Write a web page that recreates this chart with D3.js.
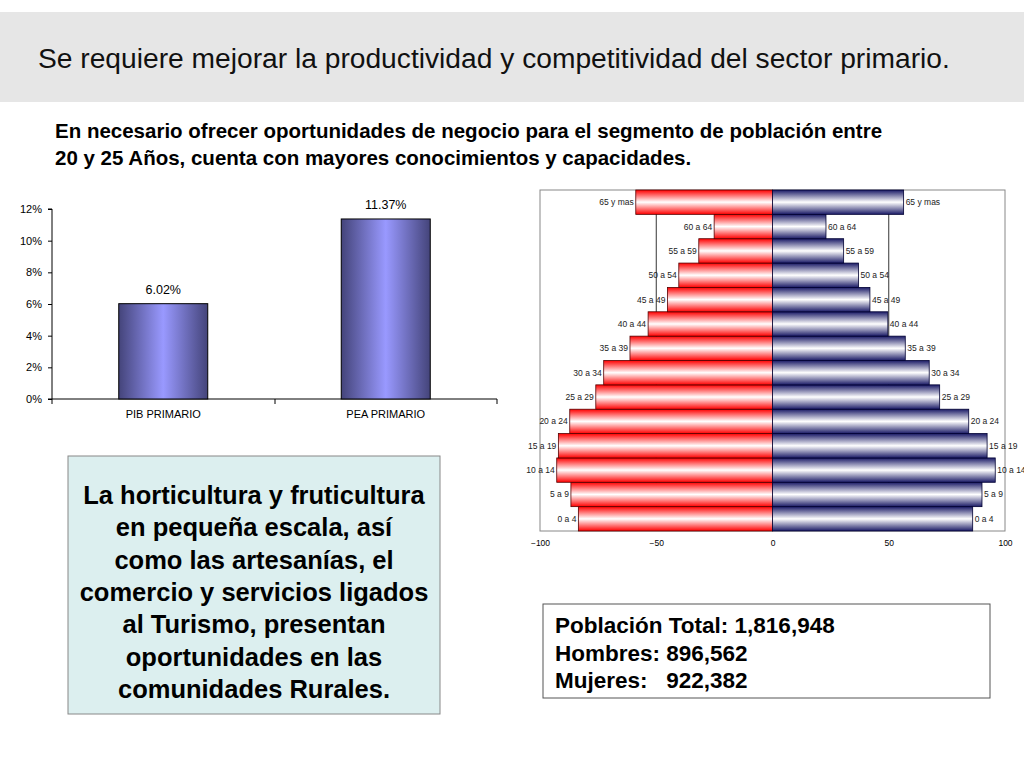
<!DOCTYPE html>
<html><head><meta charset="utf-8">
<script src="https://cdn.jsdelivr.net/npm/d3@7"></script>
<style>body{margin:0;background:#fff}svg{display:block;font-family:"Liberation Sans",Arial,sans-serif}</style>
</head><body><svg id="c" width="1024" height="768"></svg>
<script>
const barCats = ["PIB PRIMARIO","PEA PRIMARIO"];
const barVals = [6.02, 11.37];
const barTicks = [0,2,4,6,8,10,12];
const ageGroups = ["0 a 4","5 a 9","10 a 14","15 a 19","20 a 24","25 a 29","30 a 34","35 a 39","40 a 44","45 a 49","50 a 54","55 a 59","60 a 64","65 y mas"];
const mujeres = [83.5,86.7,92.8,92.1,87.2,76.0,72.6,61.3,53.5,45.2,40.3,31.7,25.1,58.8];
const hombres = [86.1,90.1,95.8,92.3,84.4,71.9,67.4,57.1,49.6,41.9,37.0,30.6,23.0,56.4];
const pyrTicks = [-100,-50,0,50,100];

const svg = d3.select("#c");
const defs = svg.append("defs");
function grad(id, stops, vertical){
  const g = defs.append("linearGradient").attr("id",id).attr("x1","0").attr("y1","0")
    .attr("x2",vertical?"0":"1").attr("y2",vertical?"1":"0");
  stops.forEach(s=>g.append("stop").attr("offset",s[0]).attr("stop-color",s[1]));
}
grad("gBar",[[0,"#44447a"],[0.5,"#9999ff"],[1,"#44447a"]],false);
grad("gRed",[[0,"#ff0000"],[0.5,"#ffffff"],[1,"#ff0000"]],true);
grad("gBlue",[[0,"#1a1a66"],[0.5,"#ffffff"],[1,"#1a1a66"]],true);

// header
svg.append("rect").attr("x",0).attr("y",12).attr("width",1024).attr("height",90).attr("fill","#e6e6e6");
svg.append("text").attr("x",38).attr("y",68).attr("font-size",28.2).attr("fill","#111")
  .text("Se requiere mejorar la productividad y competitividad del sector primario.");
svg.append("text").attr("x",55).attr("y",138).attr("font-size",20.5).attr("font-weight","bold")
  .text("En necesario ofrecer oportunidades de negocio para el segmento de población entre");
svg.append("text").attr("x",55).attr("y",165).attr("font-size",20.5).attr("font-weight","bold")
  .text("20 y 25 Años, cuenta con mayores conocimientos y capacidades.");

// bar chart
const bx = d3.scaleBand().domain(barCats).range([52,497]).paddingInner(0.6).paddingOuter(0.3);
const by = d3.scaleLinear().domain([0,12]).range([399,209]);
const bg = svg.append("g");
bg.append("g").attr("transform","translate(52,0)")
  .call(d3.axisLeft(by).tickValues(barTicks).tickFormat(d=>d+"%").tickSize(4).tickPadding(6))
  .call(g=>g.selectAll("text").attr("font-size",11).attr("font-family","Liberation Sans, Arial"))
  .call(g=>g.select(".domain").attr("d","M-4,209H0V399H-4"));
bg.append("line").attr("x1",52).attr("x2",497).attr("y1",399).attr("y2",399).attr("stroke","#000");
[52,275,497].forEach(x=>bg.append("line").attr("x1",x).attr("x2",x).attr("y1",399).attr("y2",404).attr("stroke","#000"));
bg.selectAll("rect.b").data(barVals).join("rect").attr("class","b")
  .attr("x",(d,i)=>bx(barCats[i])).attr("width",bx.bandwidth())
  .attr("y",d=>by(d)).attr("height",d=>399-by(d))
  .attr("fill","url(#gBar)").attr("stroke","#000");
bg.selectAll("text.v").data(barVals).join("text").attr("class","v")
  .attr("x",(d,i)=>bx(barCats[i])+bx.bandwidth()/2).attr("y",d=>by(d)-10)
  .attr("text-anchor","middle").attr("font-size",12.5).text(d=>d.toFixed(2)+"%");
bg.selectAll("text.c").data(barCats).join("text").attr("class","c")
  .attr("x",d=>bx(d)+bx.bandwidth()/2).attr("y",418).attr("text-anchor","middle")
  .attr("font-size",11).text(d=>d);

// pyramid
const px = d3.scaleLinear().domain([-100,100]).range([540,1005]);
const py = d3.scaleBand().domain(ageGroups).range([531,190]).padding(0);
const pg = svg.append("g");
pg.append("rect").attr("x",540).attr("y",190).attr("width",465).attr("height",341).attr("fill","#fff").attr("stroke","#888");
[-50,50].forEach(v=>pg.append("line").attr("x1",px(v)).attr("x2",px(v)).attr("y1",190).attr("y2",531).attr("stroke","#000").attr("stroke-width",0.8));
pg.selectAll("rect.m").data(mujeres).join("rect").attr("class","m")
  .attr("x",d=>px(-d)).attr("width",d=>px(0)-px(-d))
  .attr("y",(d,i)=>py(ageGroups[i])).attr("height",py.bandwidth())
  .attr("fill","url(#gRed)").attr("stroke","#550000").attr("stroke-width",0.8);
pg.selectAll("rect.h").data(hombres).join("rect").attr("class","h")
  .attr("x",px(0)).attr("width",d=>px(d)-px(0))
  .attr("y",(d,i)=>py(ageGroups[i])).attr("height",py.bandwidth())
  .attr("fill","url(#gBlue)").attr("stroke","#000033").attr("stroke-width",0.8);
pg.selectAll("text.ml").data(mujeres).join("text").attr("class","ml")
  .attr("x",d=>px(-d)-2).attr("y",(d,i)=>py(ageGroups[i])+py.bandwidth()/2+3)
  .attr("text-anchor","end").attr("font-size",8.5).attr("fill","#222").text((d,i)=>ageGroups[i]);
pg.selectAll("text.hl").data(hombres).join("text").attr("class","hl")
  .attr("x",d=>px(d)+2).attr("y",(d,i)=>py(ageGroups[i])+py.bandwidth()/2+3)
  .attr("font-size",8.5).attr("fill","#222").text((d,i)=>ageGroups[i]);
pg.append("g").attr("transform","translate(0,531)")
  .call(d3.axisBottom(px).tickValues(pyrTicks).tickSize(0).tickPadding(9).tickFormat(d3.format("d")))
  .call(g=>g.select(".domain").remove())
  .call(g=>g.selectAll("text").attr("font-size",8.5).attr("font-family","Liberation Sans, Arial"));

// text box
svg.append("rect").attr("x",68).attr("y",456).attr("width",372).attr("height",258).attr("fill","#dcefef").attr("stroke","#888");
const lines=["La horticultura y fruticultura","en pequeña escala, así","como las artesanías, el","comercio y servicios ligados","al Turismo, presentan","oportunidades en las","comunidades Rurales."];
svg.selectAll("text.tb").data(lines).join("text").attr("class","tb")
  .attr("x",254).attr("y",(d,i)=>504+i*32.3).attr("text-anchor","middle")
  .attr("font-size",25.5).attr("font-weight","bold").text(d=>d);

// population box
svg.append("rect").attr("x",543).attr("y",604).attr("width",447).attr("height",94).attr("fill","#fff").attr("stroke","#555");
["Población Total: 1,816,948","Hombres: 896,562","Mujeres:   922,382"].forEach((t,i)=>
  svg.append("text").attr("x",555).attr("y",633+i*27.5).attr("font-size",22.5).attr("font-weight","bold")
    .style("white-space","pre").text(t));
</script></body></html>
